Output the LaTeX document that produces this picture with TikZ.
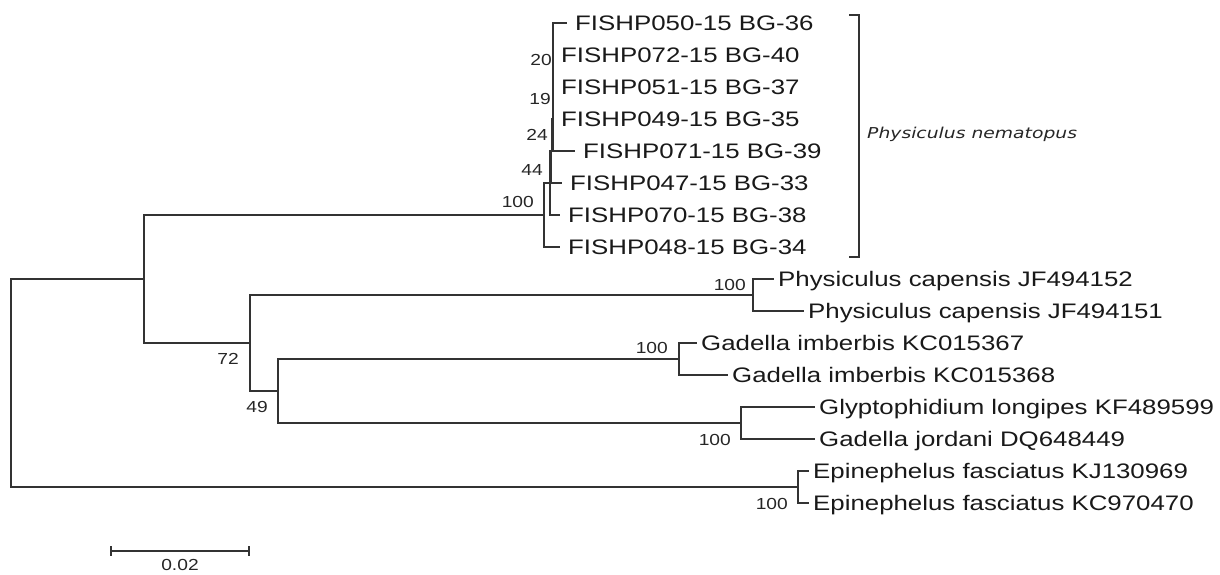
\documentclass[tikz,border=0pt]{standalone}
\usepackage{fontspec}
\setmainfont{Liberation Sans}
\newfontfamily\taxfont{Liberation Sans}[FakeStretch=1.23]
\newfontfamily\bootfont{Liberation Sans}[FakeStretch=1.2]
\newfontfamily\cladefont{DejaVu Sans}[FakeStretch=1.25]
\usetikzlibrary{calc}

\begin{document}
\begin{tikzpicture}[
    x=1pt, y=-1pt,
    br/.style={line width=1.4pt, draw=black!80},
    leaf/.style={
        anchor=west, inner xsep=4pt, inner ysep=0pt,
        text height=17pt, text depth=2pt, text=black!90,
        font=\taxfont\fontsize{21}{21}\selectfont},
    fish/.style={leaf, inner xsep=8pt},
    boot/.style={
        anchor=east, inner sep=0pt, text=black!85,
        font=\bootfont\fontsize{16}{16}\selectfont},
    clade/.style={
        anchor=base west, inner sep=0pt, text=black!85,
        font=\cladefont\itshape\fontsize{15}{15}\selectfont}
]
\useasboundingbox (0,0) rectangle (1220,574);

%% ══════════════════════════════ INNER NODES ══════════════════════════════
\coordinate (root) at (11,383);
\coordinate (nA)   at (144,279);
\coordinate (nP)   at (544,215);
\coordinate (n44)  at (550,183);
\coordinate (n24)  at (551.5,151);
\coordinate (n19)  at (553,119);
\coordinate (n20)  at (553,87);
\coordinate (n55)  at (553,55);
\coordinate (nB)   at (250,343);
\coordinate (nPc)  at (753,295);
\coordinate (nC)   at (278,391);
\coordinate (nGi)  at (679,359);
\coordinate (nGj)  at (741,423);
\coordinate (nE)   at (798,487);

%% ══════════════════════════════ LEAVES ══════════════════════════════
\node[fish] (fp050) at (567,23)  {FISHP050-15 BG-36};
\node[fish] (fp072) at (553,55)  {FISHP072-15 BG-40};
\node[fish] (fp051) at (553,87)  {FISHP051-15 BG-37};
\node[fish] (fp049) at (553,119) {FISHP049-15 BG-35};
\node[fish] (fp071) at (575,151) {FISHP071-15 BG-39};
\node[fish] (fp047) at (562,183) {FISHP047-15 BG-33};
\node[fish] (fp070) at (560,215) {FISHP070-15 BG-38};
\node[fish] (fp048) at (560,247) {FISHP048-15 BG-34};

\node[leaf] (pc152) at (774,279) {Physiculus capensis JF494152};
\node[leaf] (pc151) at (804,311) {Physiculus capensis JF494151};
\node[leaf] (gi367) at (697,343) {Gadella imberbis KC015367};
\node[leaf] (gi368) at (728,375) {Gadella imberbis KC015368};
\node[leaf] (gl599) at (815,407) {Glyptophidium longipes KF489599};
\node[leaf] (gj449) at (815,439) {Gadella jordani DQ648449};
\node[leaf] (ef969) at (809,471) {Epinephelus fasciatus KJ130969};
\node[leaf] (ef470) at (809,503) {Epinephelus fasciatus KC970470};

%% ══════════════════════════════ BRANCHES ══════════════════════════════
\draw[br] (root) |- (nA);
\draw[br] (root) |- (nE);
\draw[br] (nA)   |- (nP);
\draw[br] (nA)   |- (nB);

% Physiculus nematopus clade
\draw[br] (nP)  |- (n44);
\draw[br] (nP)  |- (fp048.west);
\draw[br] (n44) |- (n24);
\draw[br] (n44) |- (fp070.west);
\draw[br] (n24) |- (n19);
\draw[br] (n24) |- (fp047.west);
\draw[br] (n19) |- (n20);
\draw[br] (n19) |- (fp071.west);
\draw[br] (n20) |- (n55);
\draw[br] (n20) |- (fp049.west);
\draw[br] (n55) |- (fp050.west);
\draw[br] (n55) |- (fp051.west);

% outgroups
\draw[br] (nB)  |- (nPc);
\draw[br] (nB)  |- (nC);
\draw[br] (nPc) |- (pc152.west);
\draw[br] (nPc) |- (pc151.west);
\draw[br] (nC)  |- (nGi);
\draw[br] (nC)  |- (nGj);
\draw[br] (nGi) |- (gi367.west);
\draw[br] (nGi) |- (gi368.west);
\draw[br] (nGj) |- (gl599.west);
\draw[br] (nGj) |- (gj449.west);
\draw[br] (nE)  |- (ef969.west);
\draw[br] (nE)  |- (ef470.west);

%% ══════════════════════════════ BOOTSTRAP ══════════════════════════════
\node[boot] (bsP)   at ($(nP)+(-10,-13)$)  {100};
\node[boot] (bs44)  at ($(n44)+(-7,-13)$)  {44};
\node[boot] (bs24)  at ($(n24)+(-3.5,-16)$) {24};
\node[boot] (bs19)  at ($(n19)+(-2,-20)$)  {19};
\node[boot] (bs20)  at ($(n20)+(-1,-27)$)  {20};
\node[boot] (bsPc)  at ($(nPc)+(-7,-10)$)  {100};
\node[boot] (bsGi)  at ($(nGi)+(-11,-11)$) {100};
\node[boot] (bsGj)  at ($(nGj)+(-10,17)$)  {100};
\node[boot] (bsE)   at ($(nE)+(-10,17)$)   {100};
\node[boot] (bsB)   at ($(nB)+(-11,16)$)   {72};
\node[boot] (bsC)   at ($(nC)+(-10,16)$)   {49};

%% ══════════════════════════════ CLADE BRACKET ══════════════════════════════
\coordinate (brt) at (849,15);
\coordinate (brb) at (849,257);
\draw[br] (brt) -- ++(10,0) |- (brb);
\node[clade] (pnem) at (867,138) {Physiculus nematopus};

%% ══════════════════════════════ SCALE BAR ══════════════════════════════
\coordinate (sbl) at (111,551);
\coordinate (sbr) at (249,551);
\draw[br] (sbl) -- (sbr);
\draw[br] ($(sbl)+(0,-5)$) -- ($(sbl)+(0,5)$);
\draw[br] ($(sbr)+(0,-5)$) -- ($(sbr)+(0,5)$);
\node[boot, anchor=center] (sblab) at ($(sbl)!0.5!(sbr)+(0,14)$) {0.02};

\end{tikzpicture}
\end{document}
